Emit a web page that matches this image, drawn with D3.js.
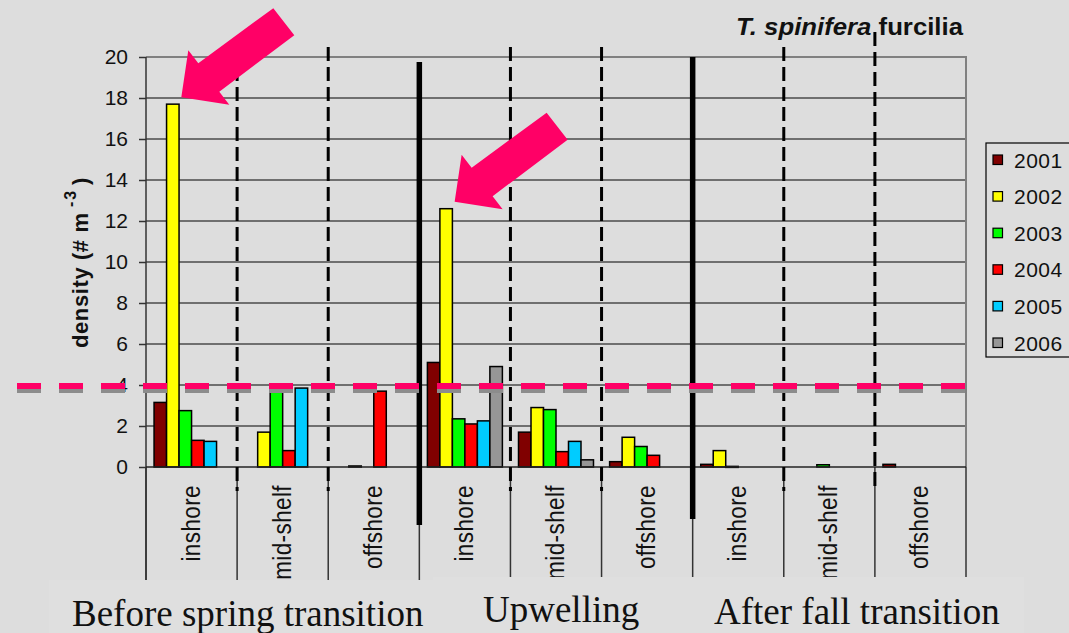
<!DOCTYPE html>
<html>
<head>
<meta charset="utf-8">
<script src="https://cdn.jsdelivr.net/npm/d3@7"></script>
<style>
  html, body { margin: 0; padding: 0; background: #dddddd; }
  svg { display: block; }
</style>
</head>
<body>
<svg id="chart" width="1069" height="633"></svg>
<script>
// Sampling zones repeated within each seasonal period
const zones = ["inshore", "mid-shelf", "offshore"];
const periods = ["Before spring transition", "Upwelling", "After fall transition"];
const years = ["2001", "2002", "2003", "2004", "2005", "2006"];

// Furcilia density (# m^-3), one value per period/zone column (null = no sample)
const density2001 = [3.15, 0, 0, 5.1, 1.7, 0.26, 0.13, 0, 0.13];
const density2002 = [17.7, 1.7, 0.05, 12.6, 2.9, 1.45, 0.8, 0, 0];
const density2003 = [2.75, 3.65, 0, 2.35, 2.8, 1.0, 0.03, 0.11, 0];
const density2004 = [1.3, 0.8, 3.7, 2.1, 0.75, 0.57, 0, 0, 0];
const density2005 = [1.25, 3.85, 0, 2.25, 1.25, 0, 0, 0, 0];
const density2006 = [null, null, null, 4.9, 0.35, 0, 0, 0, 0];

const yTicks = [0, 2, 4, 6, 8, 10, 12, 14, 16, 18, 20];
const threshold = 4;
const highlighted = [{ column: 0, year: "2002" }, { column: 3, year: "2002" }];

const yearColors = ["#800000", "#ffff00", "#00ff00", "#ff0000", "#00ccff", "#969696"];
const seriesValues = [density2001, density2002, density2003, density2004, density2005, density2006];

// Column keys: period index + zone
const columns = periods.flatMap((p, pi) => zones.map((z) => ({ key: pi + "-" + z, zone: z, period: pi })));

const svg = d3.select("#chart");
const W = 1069, H = 633;
const font = "'Liberation Sans', Arial, sans-serif";

const plotLeft = 146, plotRight = 966, plotTop = 57, plotBase = 467;

const x = d3.scaleBand().domain(columns.map(c => c.key)).range([plotLeft, plotRight]).paddingInner(0).paddingOuter(0);
const x1 = d3.scaleBand().domain(years).range([0, x.bandwidth()]).paddingInner(0).paddingOuter(0.645);
const y = d3.scaleLinear().domain([0, 20]).range([plotBase, plotTop]);
const color = d3.scaleOrdinal().domain(years).range(yearColors);

svg.append("rect").attr("width", W).attr("height", H).attr("fill", "#dddddd");

// Horizontal gridlines
svg.append("g").selectAll("line").data(yTicks.filter(t => t > 0 && t < 20)).join("line")
  .attr("x1", plotLeft).attr("x2", plotRight)
  .attr("y1", d => y(d)).attr("y2", d => y(d))
  .attr("stroke", "#4a4a4a").attr("stroke-width", 1.5);

// Plot frame (top and right)
svg.append("path")
  .attr("d", `M${plotLeft},${y(20)}H${plotRight}V${plotBase}`)
  .attr("fill", "none").attr("stroke", "#808080").attr("stroke-width", 2);

// Bars
const barData = [];
columns.forEach((c, ci) => {
  years.forEach((yr, yi) => {
    const v = seriesValues[yi][ci];
    if (v != null && v > 0) barData.push({ key: c.key, year: yr, value: v });
  });
});
svg.append("g").selectAll("rect").data(barData).join("rect")
  .attr("x", d => x(d.key) + x1(d.year))
  .attr("y", d => y(d.value))
  .attr("width", x1.bandwidth())
  .attr("height", d => Math.max(1, plotBase - y(d.value)))
  .attr("fill", d => color(d.year))
  .attr("stroke", "#000").attr("stroke-width", 1.5);

// Category divider lines through the label area
const boundaries = d3.range(columns.length + 1).map(i => plotLeft + i * x.step());
svg.append("g").selectAll("line").data(boundaries).join("line")
  .attr("x1", d => d).attr("x2", d => d)
  .attr("y1", plotBase).attr("y2", 585)
  .attr("stroke", "#333").attr("stroke-width", 1.5);

// Y axis
const yAxis = d3.axisLeft(y).tickValues(yTicks).tickSize(7).tickPadding(11).tickFormat(d3.format("d"));
const gy = svg.append("g").attr("transform", `translate(${plotLeft},0)`).call(yAxis);
gy.select(".domain").remove();
gy.selectAll(".tick line").attr("stroke", "#333").attr("stroke-width", 1.5);
gy.selectAll(".tick text").attr("font-family", font).attr("font-size", 21).attr("fill", "#111");
svg.append("line").attr("x1", plotLeft).attr("x2", plotLeft).attr("y1", plotTop).attr("y2", 585)
  .attr("stroke", "#333").attr("stroke-width", 1.5);

// X baseline
svg.append("line").attr("x1", plotLeft).attr("x2", plotRight).attr("y1", plotBase).attr("y2", plotBase)
  .attr("stroke", "#222").attr("stroke-width", 1.5);

// Zone labels (rotated, glyphs slightly tall)
svg.append("g").selectAll("text").data(columns).join("text")
  .attr("transform", d => `translate(${x(d.key) + x.bandwidth() / 2 + 8},485) rotate(-90) scale(1,1.18)`)
  .attr("text-anchor", "end")
  .attr("font-family", font).attr("font-size", 22.5).attr("letter-spacing", 0.4).attr("fill", "#111")
  .text(d => d.zone);

// Zone separators (dashed) and period separators (thick)
const zoneSeps = [1, 2, 4, 5, 7, 8].map(i => ({ x: boundaries[i], y0: i === 8 ? 32 : 47 }));
svg.append("g").selectAll("line").data(zoneSeps).join("line")
  .attr("x1", d => d.x).attr("x2", d => d.x)
  .attr("y1", d => d.y0).attr("y2", 491)
  .attr("stroke", "#000").attr("stroke-width", 3)
  .attr("stroke-dasharray", "14,6");
const periodSeps = [{ x: boundaries[3], y0: 62, y1: 525 }, { x: boundaries[6], y0: 57, y1: 519 }];
svg.append("g").selectAll("line").data(periodSeps).join("line")
  .attr("x1", d => d.x).attr("x2", d => d.x)
  .attr("y1", d => d.y0).attr("y2", d => d.y1)
  .attr("stroke", "#000").attr("stroke-width", 5.5);

// Threshold line with drop shadow
const ty = y(threshold) + 1;
svg.append("line").attr("x1", 17).attr("x2", 966).attr("y1", ty + 4).attr("y2", ty + 4)
  .attr("stroke", "#8c8c8c").attr("stroke-width", 6).attr("stroke-dasharray", "24,18");
svg.append("line").attr("x1", 17).attr("x2", 966).attr("y1", ty).attr("y2", ty)
  .attr("stroke", "#ff0066").attr("stroke-width", 6).attr("stroke-dasharray", "24,18");

// Block arrows pointing at the highlighted bars
const arrowShape = [[0, 0], [7, -47], [17, -34], [92, -89], [113, -62], [38, -5.5], [48, 7.5]];
svg.append("g").selectAll("polygon").data(highlighted).join("polygon")
  .attr("points", d => {
    const c = columns[d.column];
    const yi = years.indexOf(d.year);
    const tipX = x(c.key) + x1(d.year) + x1.bandwidth() / 2 + 8.5;
    const tipY = y(seriesValues[yi][d.column]) - 7;
    return arrowShape.map(p => [tipX + p[0], tipY + p[1]].join(",")).join(" ");
  })
  .attr("fill", "#ff0066");

// Y axis title, laid out along the rotated axis
const yt = svg.append("text")
  .attr("transform", `translate(88,259) rotate(-90)`)
  .attr("font-family", font).attr("font-size", 22).attr("font-weight", "bold").attr("fill", "#111");
yt.append("tspan").attr("x", -89).attr("letter-spacing", 0.6).text("density (# m");
yt.append("tspan").attr("x", 52).attr("dy", -12).attr("font-size", 16).attr("letter-spacing", 2).text("-3");
yt.append("tspan").attr("x", 74).attr("dy", 12).text(")");

// Chart title
const title = svg.append("text").attr("x", 736).attr("y", 35)
  .attr("font-family", font).attr("font-size", 23.5).attr("font-weight", "bold").attr("fill", "#111")
  .attr("textLength", 227).attr("lengthAdjust", "spacingAndGlyphs");
title.append("tspan").attr("font-style", "italic").text("T. spinifera");
title.append("tspan").text(" furcilia");

// Legend
const lg = svg.append("g");
lg.append("rect").attr("x", 986).attr("y", 143).attr("width", 100).attr("height", 214)
  .attr("fill", "#dddddd").attr("stroke", "#000").attr("stroke-width", 1.2);
const item = lg.selectAll("g").data(years).join("g")
  .attr("transform", (d, i) => `translate(993,${160 + i * 36.6})`);
item.append("rect").attr("x", 0).attr("y", -5).attr("width", 9.5).attr("height", 9.5)
  .attr("fill", d => color(d)).attr("stroke", "#000").attr("stroke-width", 1.2);
item.append("text").attr("x", 21).attr("y", 7.5)
  .attr("font-family", font).attr("font-size", 21).attr("letter-spacing", 0.5).attr("fill", "#111").text(d => d);

// Period captions
const box = svg.append("g");
box.append("rect").attr("x", 49).attr("y", 580).attr("width", 390).attr("height", 60).attr("fill", "#dfdfdf");
box.append("rect").attr("x", 433).attr("y", 577).attr("width", 591).attr("height", 60).attr("fill", "#dfdfdf");
const captionPos = [{ x: 72, y: 626 }, { x: 483, y: 622 }, { x: 714, y: 624 }];
box.selectAll("text").data(periods).join("text")
  .attr("x", (d, i) => captionPos[i].x).attr("y", (d, i) => captionPos[i].y)
  .attr("font-family", "'Liberation Serif', 'Times New Roman', serif")
  .attr("font-size", 37).attr("fill", "#111")
  .text(d => d);
</script>
</body>
</html>
